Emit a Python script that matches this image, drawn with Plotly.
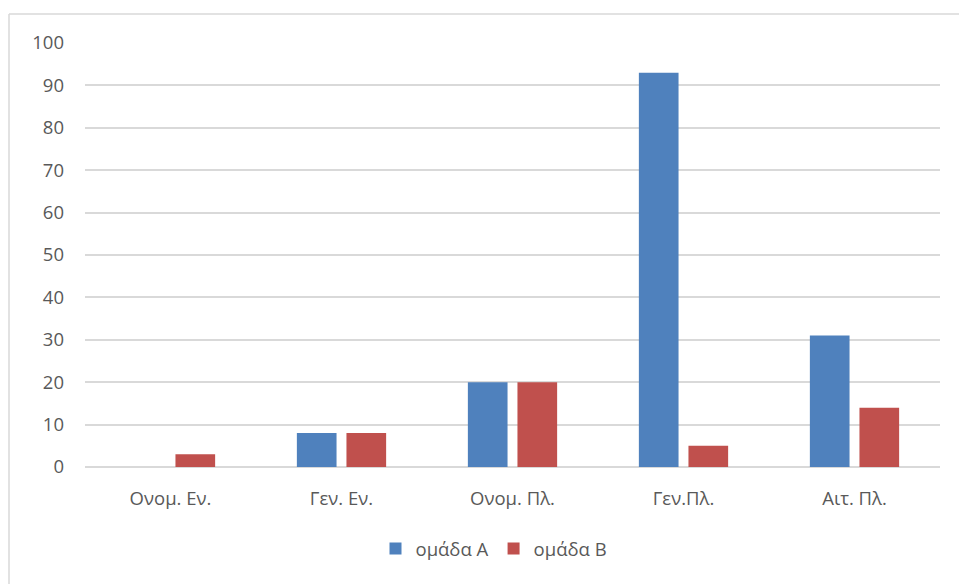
import plotly.graph_objects as go

categories = ["Ονομ. Εν.", "Γεν. Εν.", "Ονομ. Πλ.", "Γεν.Πλ.", "Αιτ. Πλ."]
group_a = [0, 8, 20, 93, 31]
group_b = [3, 8, 20, 5, 14]
y_ticks = [0, 10, 20, 30, 40, 50, 60, 70, 80, 90, 100]

W, H = 959, 584
L, T = 85, 43
R = W - 940
B = H - 467
pw, ph = W - L - R, H - T - B

font = dict(family="Open Sans, Noto Sans, sans-serif", size=18.5, color="#595959")

fig = go.Figure()
fig.add_trace(go.Bar(x=categories, y=group_a, name="ομάδα A", marker=dict(color="#4F81BD", line=dict(width=0))))
fig.add_trace(go.Bar(x=categories, y=group_b, name="ομάδα B", marker=dict(color="#C0504D", line=dict(width=0))))

def px_x(p):
    return (p - L) / pw

def px_y(p):
    return (H - B - p) / ph

border = dict(color="#D9D9D9", width=1.5)
fig.add_shape(type="line", xref="paper", yref="paper",
              x0=px_x(9), x1=px_x(990), y0=px_y(14), y1=px_y(14), line=border, layer="below")
fig.add_shape(type="line", xref="paper", yref="paper",
              x0=px_x(9), x1=px_x(9), y0=px_y(14), y1=px_y(620), line=border, layer="below")

fig.update_layout(
    width=W, height=H,
    margin=dict(l=L, r=R, t=T, b=B),
    paper_bgcolor="white", plot_bgcolor="white",
    barmode="group", bargap=0.42, bargroupgap=0.2,
    font=font,
    showlegend=True,
    legend=dict(orientation="h", x=px_x(494), xanchor="center", y=px_y(549), yanchor="middle",
                font=font, itemwidth=30, traceorder="normal"),
    xaxis=dict(showgrid=False, showline=False, ticks="", tickfont=font, fixedrange=True,
               ticklabelstandoff=18),
    yaxis=dict(range=[0, 100], tickvals=y_ticks, showgrid=True, gridcolor="#D9D9D9", gridwidth=1.5,
               zeroline=True, zerolinecolor="#D9D9D9", zerolinewidth=1.5,
               showline=False, ticks="", tickfont=font, ticklabelstandoff=20),
)

fig.write_html("out.html", config={"displayModeBar": False},
               post_script="document.body.style.margin='0';document.body.style.overflow='hidden';")
